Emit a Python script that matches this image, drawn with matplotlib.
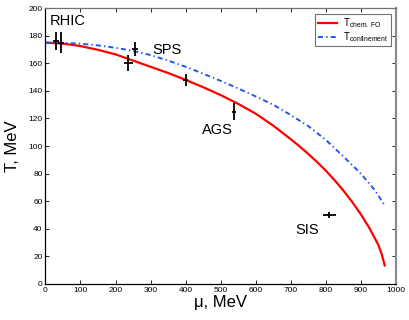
import matplotlib
matplotlib.use('Agg')
import matplotlib.pyplot as plt
import numpy as np

plt.rcParams['font.family'] = ['Liberation Sans', 'DejaVu Sans']
plt.rcParams['mathtext.fontset'] = 'custom'
plt.rcParams['mathtext.rm'] = 'Liberation Sans'
plt.rcParams['mathtext.it'] = 'Liberation Sans'

# chemical freeze-out curve (red)
mu_fo = [0, 50, 100, 150, 200, 250, 300, 350, 400, 450, 500, 550, 600,
         650, 700, 725, 750, 775, 800, 825, 850, 875, 900, 925, 950, 960, 968]
T_fo = [175, 174.3, 172.5, 169.8, 166.5, 162, 157.5, 153, 148, 142.7, 137,
        130.6, 123.5, 114.8, 105, 99.8, 94.3, 88.5, 82.2, 75.3, 67.8, 59.6,
        50.5, 40.3, 28.3, 21.2, 13.5]

# confinement curve (blue dash-dot)
mu_conf = [0, 50, 100, 150, 200, 250, 300, 350, 400, 450, 500, 550, 600,
           650, 700, 750, 800, 850, 900, 940, 968]
T_conf = [175, 174.8, 174.2, 173, 171.3, 169, 166, 162, 157.5, 152.5, 147.3,
          141.8, 136, 130, 122.5, 114.5, 104.5, 92.5, 80, 68, 57]

# experimental points
mu_exp = [30, 45, 237, 255, 400, 538, 810]
T_exp = [176.5, 175, 160, 170.3, 148, 125, 50]
mu_err = [8, 8, 12, 9, 8, 6, 18]
T_err = [6.5, 7.5, 5.7, 5, 4.5, 6, 2.5]

labels = ['RHIC', 'SPS', 'AGS', 'SIS']
label_pos = [(13, 191), (306, 169.5), (446, 111.8), (713, 39.2)]

fig = plt.figure(figsize=(4.09, 3.2), dpi=100)
ax = fig.add_axes([0.111, 0.1125, 0.857, 0.862])

ax.plot(mu_fo, T_fo, color='red', lw=1.6, label=r'T$_{\rm chem.\ FO}$')
ax.plot(mu_conf, T_conf, color='#2255ee', lw=1.4, ls=(0, (2.6, 1.6, 0.7, 1.6)),
        label=r'T$_{\rm confinement}$')
ax.errorbar(mu_exp, T_exp, xerr=mu_err, yerr=T_err, fmt='none', ecolor='black',
            elinewidth=1.3, capsize=0)

for t, (x, y) in zip(labels, label_pos):
    ax.text(x, y, t, fontsize=10.5, va='center', ha='left')

ax.set_xlim(0, 1000)
ax.set_ylim(0, 200)
ax.set_xticks(np.arange(0, 1001, 100))
ax.set_yticks(np.arange(0, 201, 20))
ax.tick_params(direction='in', length=3, width=0.6, labelsize=6,
               top=True, right=True, pad=2)
ax.set_xlabel('μ, MeV', fontsize=12, labelpad=1)
ax.set_ylabel('T, MeV', fontsize=12, labelpad=6)

for s in ['left', 'bottom']:
    ax.spines[s].set_color('black')
    ax.spines[s].set_linewidth(0.9)
ax.spines['top'].set_color('0.45')
ax.spines['top'].set_linewidth(0.9)
ax.spines['right'].set_color('0.55')
ax.spines['right'].set_linewidth(1.6)

leg = ax.legend(loc='upper right', fontsize=7, frameon=True, fancybox=False,
                edgecolor='0.3', handlelength=2.0, borderpad=0.25,
                labelspacing=0.05, handletextpad=0.6, borderaxespad=0.55)
leg.get_frame().set_linewidth(0.8)

fig.savefig('out.png', dpi=100)
